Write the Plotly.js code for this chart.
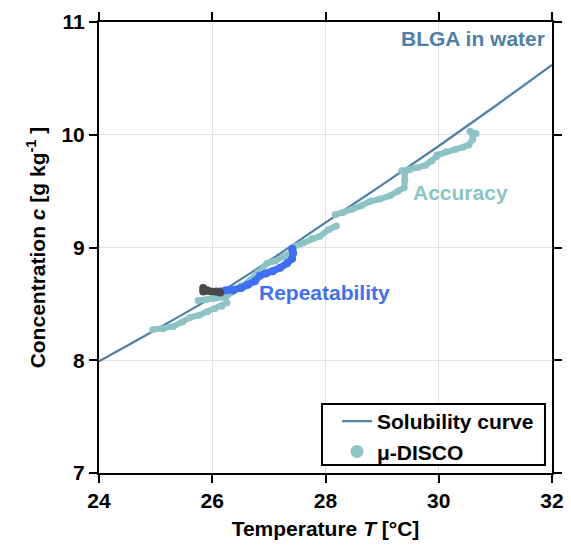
<!DOCTYPE html>
<html><head><meta charset="utf-8">
<script src="https://cdn.plot.ly/plotly-3.0.1.min.js"></script>
<style>html,body{margin:0;padding:0;background:#fff}#plot{width:571px;height:545px}</style>
</head><body><div id="plot"></div>
<script>
// Solubility curve (BLGA in water)
const curveT = [24, 25, 26, 27, 28, 29, 30, 31, 32];
const curveC = [7.99, 8.27, 8.56, 8.88, 9.22, 9.555, 9.90, 10.255, 10.62];

// μ-DISCO accuracy measurements (null = gap)
const accT = [24.95, 25.13, 25.31, 25.47, 25.61, 25.77, 25.91, 26.05, 26.17, 26.26, null,
  25.75, 25.91, 26.05, 26.23, 26.37, 26.51, 26.67, 26.81, 26.97, 27.11, 27.27, 27.41, 27.46, 27.60, 27.76, 27.90, 28.06, 28.19, null,
  28.17, 28.31, 28.47, 28.63, 28.79, 28.96, 29.14, 29.28, 29.39, 29.40, 29.40, null,
  29.35, 29.49, 29.63, 29.77, 29.88, 29.97, 29.97, 30.13, 30.29, 30.43, 30.53, 30.60, 30.60, 30.55, 30.66];
const accC = [8.27, 8.28, 8.30, 8.34, 8.38, 8.40, 8.43, 8.46, 8.48, 8.51, null,
  8.53, 8.54, 8.55, 8.56, 8.61, 8.66, 8.71, 8.78, 8.86, 8.88, 8.92, 8.96, 9.01, 9.04, 9.08, 9.10, 9.16, 9.19, null,
  9.29, 9.31, 9.34, 9.37, 9.41, 9.43, 9.46, 9.50, 9.53, 9.60, 9.66, null,
  9.68, 9.69, 9.71, 9.73, 9.77, 9.81, 9.82, 9.85, 9.87, 9.89, 9.91, 9.96, 10.00, 10.03, 10.01];

// μ-DISCO repeatability measurements
const repT = [26.14, 26.24, 26.37, 26.51, 26.63, 26.75, 26.84, 26.95, 27.07, 27.20, 27.32, 27.41, 27.43, 27.41];
const repC = [8.61, 8.62, 8.62, 8.64, 8.67, 8.70, 8.75, 8.77, 8.79, 8.82, 8.86, 8.90, 8.95, 8.99];

// Initial points (dark)
const iniT = [25.84, 25.91, 25.84, 25.98, 26.07, 26.14];
const iniC = [8.64, 8.62, 8.61, 8.61, 8.61, 8.60];

// Tick labels
const xTicks = [24, 26, 28, 30, 32];
const yTicks = [7, 8, 9, 10, 11];

const cCurve = '#4e7fa7', cAcc = '#8cc3c5', cRep = '#3f6ff4', cIni = '#4a4a4a';

const data = [
  {x: curveT, y: curveC, mode: 'lines', line: {color: cCurve, width: 2.2, shape: 'spline'}, name: 'Solubility curve'},
  {x: accT, y: accC, mode: 'lines+markers', line: {color: cAcc, width: 6}, marker: {color: cAcc, size: 7}, showlegend: false, connectgaps: false},
  {x: repT, y: repC, mode: 'lines+markers', line: {color: cRep, width: 7}, marker: {color: cRep, size: 8}, showlegend: false},
  {x: iniT, y: iniC, mode: 'lines+markers', line: {color: cIni, width: 6}, marker: {color: cIni, size: 8}, showlegend: false},
  {x: [null], y: [null], mode: 'markers', marker: {color: cAcc, size: 13}, name: 'μ-DISCO'}
];

const fam = 'Liberation Sans, Arial, sans-serif';

const layout = {
  width: 571, height: 545,
  margin: {l: 99, r: 19, t: 22, b: 72},
  paper_bgcolor: '#fff', plot_bgcolor: '#fff',
  font: {family: fam, size: 20, color: '#000', weight: 'bold'},
  xaxis: {
    range: [24, 32], tickmode: 'array', tickvals: xTicks, ticktext: xTicks.map(String),
    showline: true, linecolor: '#000', linewidth: 2, mirror: 'allticks',
    ticks: 'outside', ticklen: 8, tickwidth: 2, tickcolor: '#000',
    showgrid: true, gridcolor: '#e2e2e2', gridwidth: 1, zeroline: false,
    tickfont: {family: fam, size: 21, color: '#000', weight: 'bold'},
    title: {text: 'Temperature <i>T</i> [°C]', font: {family: fam, size: 21, color: '#000', weight: 'bold'}, standoff: 10}
  },
  yaxis: {
    range: [7, 11], tickmode: 'array', tickvals: yTicks, ticktext: yTicks.map(String),
    showline: true, linecolor: '#000', linewidth: 2, mirror: 'allticks',
    ticks: 'outside', ticklen: 8, tickwidth: 2, tickcolor: '#000',
    showgrid: true, gridcolor: '#e2e2e2', gridwidth: 1, zeroline: false,
    tickfont: {family: fam, size: 21, color: '#000', weight: 'bold'},
    title: {text: 'Concentration <i>c</i> [g kg<sup>-1</sup> ]', font: {family: fam, size: 21, color: '#000', weight: 'bold'}, standoff: 10}
  },
  showlegend: true,
  legend: {x: (337 - 99) / 453, xanchor: 'left', xref: 'paper', y: 0.1596, yanchor: 'top',
    bgcolor: 'rgba(0,0,0,0)', borderwidth: 0,
    font: {family: fam, size: 21, color: '#000', weight: 'bold'}, tracegroupgap: 0},
  shapes: [
    {type: 'rect', xref: 'paper', yref: 'paper', x0: 0.4923, x1: 0.9845, y0: 0.0177, y1: 0.153,
      line: {color: '#000', width: 2}, fillcolor: '#fff', layer: 'above'}
  ],
  annotations: [
    {x: 32, y: 10.85, xref: 'x', yref: 'y', xanchor: 'right', xshift: -5, yanchor: 'middle', showarrow: false,
      text: 'BLGA in water', font: {family: fam, size: 21, color: cCurve, weight: 'bold'}},
    {x: 30.38, y: 9.49, xref: 'x', yref: 'y', xanchor: 'center', yanchor: 'middle', showarrow: false,
      text: 'Accuracy', font: {family: fam, size: 21, color: cAcc, weight: 'bold'}},
    {x: 27.98, y: 8.60, xref: 'x', yref: 'y', xanchor: 'center', yanchor: 'middle', showarrow: false,
      text: 'Repeatability', font: {family: fam, size: 21, color: cRep, weight: 'bold'}}
  ]
};

Plotly.newPlot('plot', data, layout, {displayModeBar: false, staticPlot: true});
</script>
</body></html>
